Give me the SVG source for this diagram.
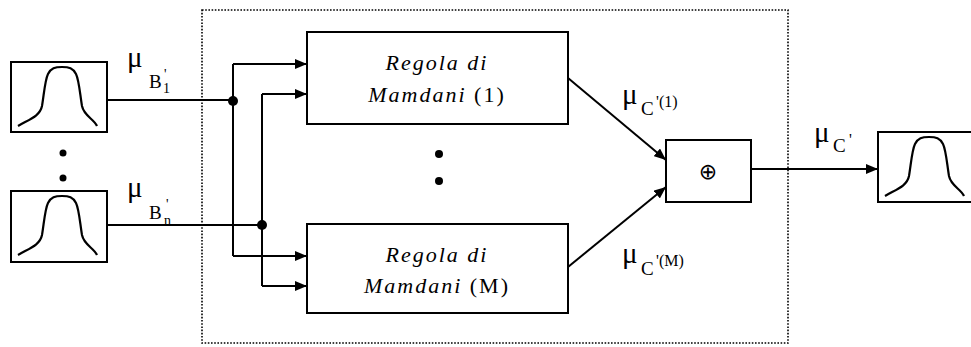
<svg xmlns="http://www.w3.org/2000/svg" width="971" height="347" viewBox="0 0 971 347">
<style>
.box{fill:#fff;stroke:#000;stroke-width:2}
.ln{fill:none;stroke:#000;stroke-width:2}
.curve{fill:none;stroke:#000;stroke-width:2.2}
.it{font-style:italic}
.rule{font-size:22px;letter-spacing:2px}
.mu{font-size:29px}
.sub{font-size:19px}
.sm{font-size:14px}
.sm2{font-size:16px}
</style>
<defs>
<marker id="ah" viewBox="0 0 12 10" refX="12" refY="5" markerWidth="12" markerHeight="10" markerUnits="userSpaceOnUse" orient="auto">
<path d="M0,0 L12,5 L0,10 Z" fill="#000"/>
</marker>
<path id="gauss" d="M18,126 C30,119 40,116 42,106 C44,94 45,80 48,74 C51,68 55,67 62,67 C69,67 73,68 76,74 C79,80 80,94 82,106 C84,116 94,119 97,126"/>
</defs>
<rect id="frame" x="202" y="10" width="586" height="333" fill="none" stroke="#000" stroke-width="1.6" stroke-dasharray="1.6 1.6"/>
<g id="in1">
<rect class="box" x="11" y="62" width="96" height="70"/>
<use href="#gauss" class="curve"/>
</g>
<g id="inn">
<rect class="box" x="11" y="191" width="96" height="71"/>
<use href="#gauss" class="curve" transform="translate(0,129)"/>
</g>
<g id="out">
<rect class="box" x="878" y="132" width="100" height="70"/>
<use href="#gauss" class="curve" transform="translate(867,70)"/>
</g>
<g id="dots">
<circle cx="63" cy="153" r="3.5"/>
<circle cx="63" cy="178" r="3.5"/>
<circle cx="439" cy="154" r="4"/>
<circle cx="439" cy="181" r="4"/>
</g>
<g id="rule1">
<rect class="box" x="307" y="32" width="261" height="92"/>
<text font-family="Liberation Serif" class="rule it" x="437" y="70" text-anchor="middle">Regola di</text>
<text font-family="Liberation Serif" class="rule" x="437" y="102" text-anchor="middle"><tspan class="it">Mamdani</tspan> (1)</text>
</g>
<g id="ruleM">
<rect class="box" x="307" y="224" width="261" height="89"/>
<text font-family="Liberation Serif" class="rule it" x="437" y="262" text-anchor="middle">Regola di</text>
<text font-family="Liberation Serif" class="rule" x="437" y="293" text-anchor="middle"><tspan class="it">Mamdani</tspan> (M)</text>
</g>
<g id="labels" font-family="Times New Roman">
<text font-family="Times New Roman" class="mu" x="127" y="67">μ</text>
<text font-family="Times New Roman" class="sub" x="149" y="88">B</text>
<text font-family="Times New Roman" class="sm" x="164" y="79">'</text>
<text font-family="Times New Roman" class="sm" x="163" y="93">1</text>
<text font-family="Times New Roman" class="mu" x="127" y="197">μ</text>
<text font-family="Times New Roman" class="sub" x="149" y="219">B</text>
<text font-family="Times New Roman" class="sm" x="166" y="209">'</text>
<text font-family="Times New Roman" class="sm" x="164" y="225">n</text>
<text font-family="Times New Roman" class="mu" x="622" y="104">μ</text>
<text font-family="Times New Roman" class="sub" x="641" y="115">C</text>
<text font-family="Times New Roman" class="sm2" x="656" y="107">'(1)</text>
<text font-family="Times New Roman" class="mu" x="622" y="263">μ</text>
<text font-family="Times New Roman" class="sub" x="641" y="275">C</text>
<text font-family="Times New Roman" class="sm2" x="656" y="266">'(M)</text>
<text font-family="Times New Roman" class="mu" x="814" y="142">μ</text>
<text font-family="Times New Roman" class="sub" x="833" y="152">C</text>
<text font-family="Times New Roman" class="sm2" x="849" y="145">'</text>
</g>
<g id="sum">
<rect class="box" x="666" y="140" width="85" height="62"/>
<text x="708" y="179" text-anchor="middle" font-family="DejaVu Sans" font-size="22">⊕</text>
</g>
<g id="connectors">
<path class="ln" d="M107,100 H233"/>
<path class="ln" d="M107,225 H262"/>
<path class="ln" d="M233,64 V256"/>
<path class="ln" d="M262,94 V286"/>
<path class="ln" d="M233,64 H307" marker-end="url(#ah)"/>
<path class="ln" d="M262,94 H307" marker-end="url(#ah)"/>
<path class="ln" d="M233,256 H307" marker-end="url(#ah)"/>
<path class="ln" d="M262,286 H307" marker-end="url(#ah)"/>
<path class="ln" d="M568,78 L666,160" marker-end="url(#ah)"/>
<path class="ln" d="M568,267 L666,187" marker-end="url(#ah)"/>
<path class="ln" d="M751,169 H878" marker-end="url(#ah)"/>
<circle cx="233" cy="101" r="5"/>
<circle cx="262" cy="225" r="5"/>
</g>
</svg>
